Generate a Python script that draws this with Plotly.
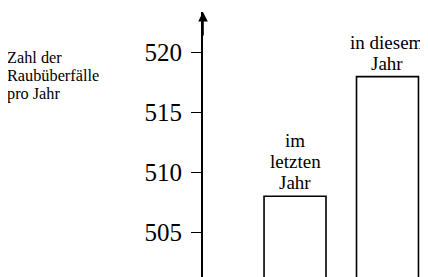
import plotly.graph_objects as go

categories = ["im letzten Jahr", "in diesem Jahr"]
category_lines = [["im", "letzten", "Jahr"], ["in diesem", "Jahr"]]
values = [508, 518]
tick_values = [505, 510, 515, 520]
tick_labels = ["505", "510", "515", "520"]
axis_title_lines = ["Zahl der", "Raubüberfälle", "pro Jahr"]

FONT = "Liberation Serif, Times New Roman, serif"
x_pos = list(range(len(categories)))

fig = go.Figure()
fig.add_trace(go.Bar(
    x=x_pos, y=values, width=0.67,
    marker=dict(color="white", line=dict(color="black", width=1.6)),
    hoverinfo="skip",
))

LINE = 21
for xi, lines, v in zip(x_pos, category_lines, values):
    n = len(lines)
    for i, line in enumerate(lines):
        fig.add_annotation(x=xi, y=v, text=line, showarrow=False, xanchor="center",
                           yanchor="bottom", yshift=1 + (n - 1 - i) * LINE,
                           font=dict(family=FONT, size=19, color="black"))

for i, line in enumerate(axis_title_lines):
    fig.add_annotation(xref="paper", yref="paper", x=-0.878, y=0.872, text=line,
                       showarrow=False, xanchor="left", yanchor="top", align="left",
                       yshift=-18 * i,
                       font=dict(family=FONT, size=16.3, color="black"))

# arrow head on the y axis
fig.add_annotation(xref="paper", yref="paper", x=0, y=1.0, ax=0, ay=25,
                   axref="pixel", ayref="pixel", text="", showarrow=True,
                   arrowhead=2, arrowsize=1.2, arrowwidth=1.6, arrowcolor="black")

# page body has an 8px margin: figure is sized/offset to fill the 428x277 window
fig.update_layout(
    width=420, height=269,
    margin=dict(l=195, r=0, t=4, b=0),
    paper_bgcolor="white", plot_bgcolor="white",
    showlegend=False,
    xaxis=dict(range=[-0.995, 1.438], showticklabels=False, showgrid=False,
               zeroline=False, showline=False, ticks=""),
    yaxis=dict(range=[501.25, 523.4], tickvals=tick_values, ticktext=tick_labels,
               ticks="outside", ticklen=10, tickwidth=1.4, tickcolor="black",
               showline=True, linecolor="black", linewidth=1.8,
               showgrid=False, zeroline=False, ticklabelstandoff=4,
               tickfont=dict(family=FONT, size=25, color="black")),
)

fig.write_html("out.html")
